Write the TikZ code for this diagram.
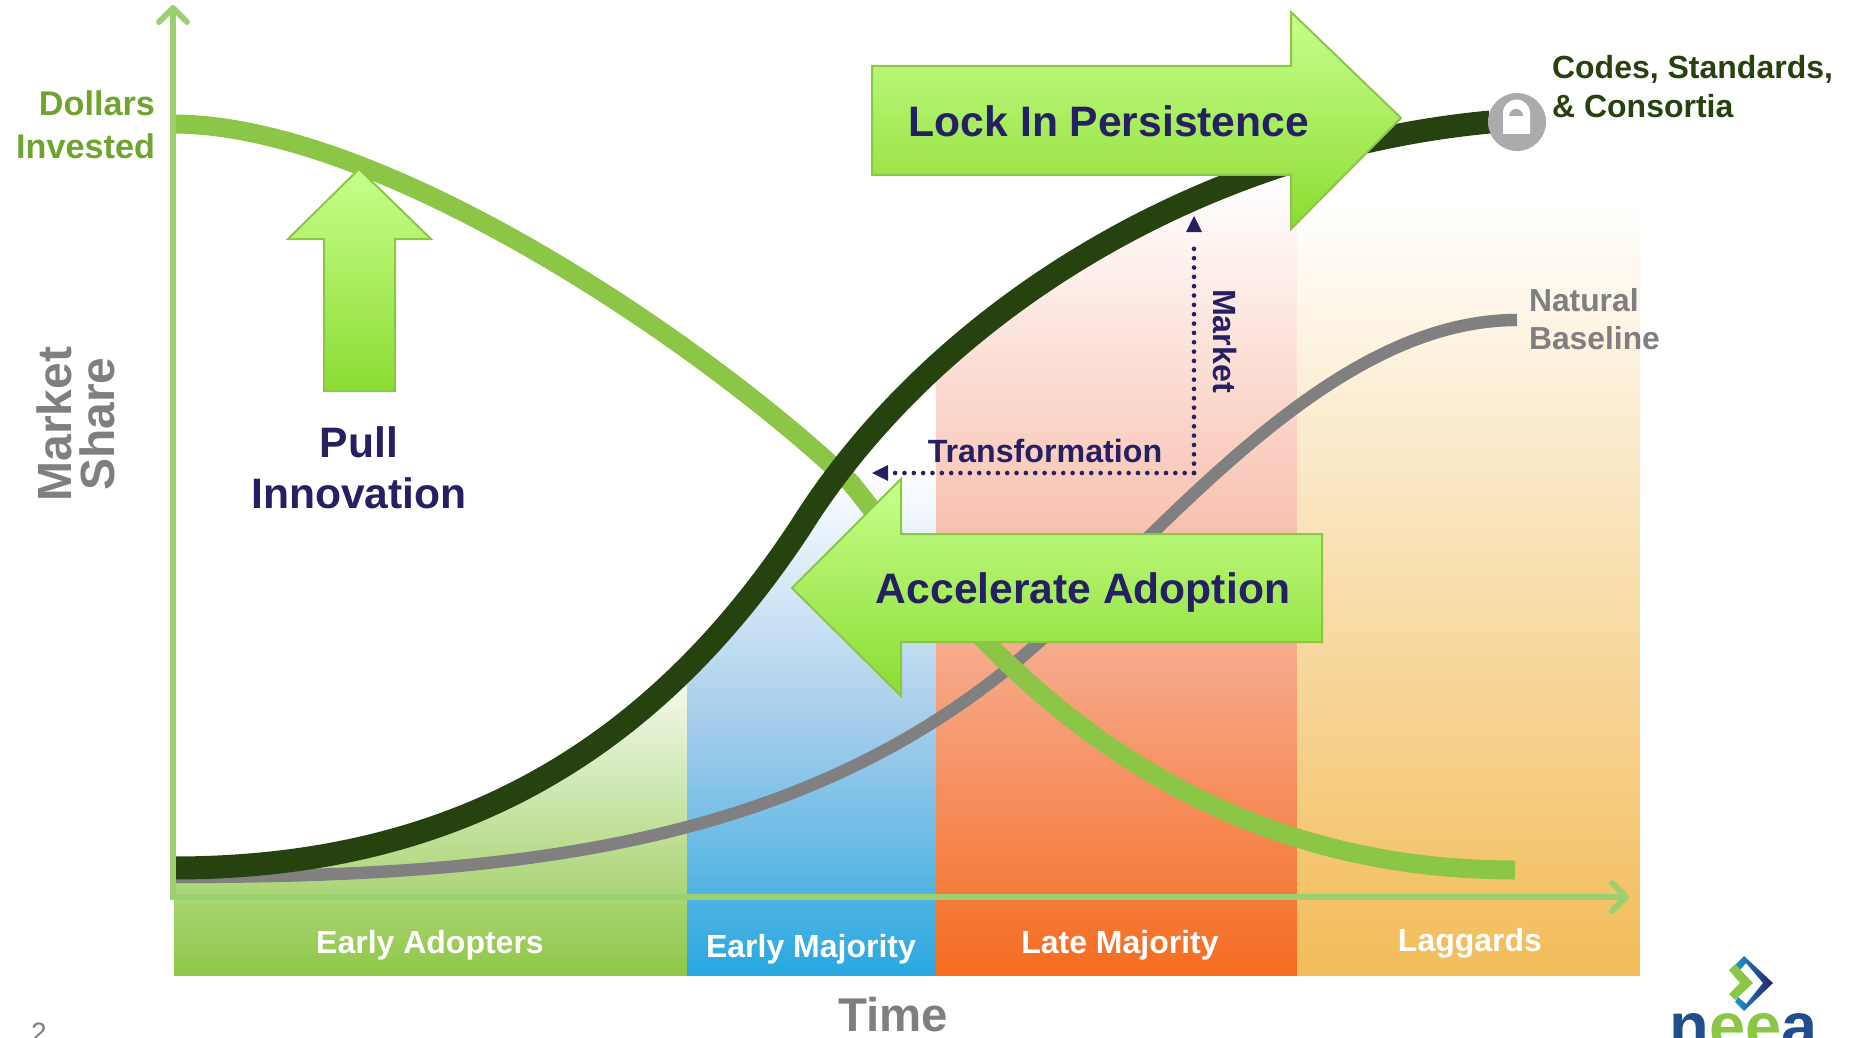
\documentclass[tikz,border=0pt]{standalone}
\usepackage{fontspec}
\setmainfont{Liberation Sans}
\usetikzlibrary{arrows.meta,calc}
\definecolor{navy}{HTML}{251F63}
\definecolor{dkgreen}{HTML}{26430F}
\definecolor{midgreen}{HTML}{8CC646}
\definecolor{axisgreen}{HTML}{9BD070}
\definecolor{labgreen}{HTML}{6FA52F}
\definecolor{txtgray}{HTML}{7F7F7F}
\definecolor{curvegray}{HTML}{808080}
\definecolor{arrowlight}{HTML}{C6FF8C}
\definecolor{arrowdark}{HTML}{8CDC32}
\definecolor{bandgreen}{HTML}{8FC748}
\definecolor{bandblue}{HTML}{29A8E0}
\definecolor{bandbluemid}{HTML}{A5CDEB}
\definecolor{bandorange}{HTML}{F56C20}
\definecolor{bandorangemid}{HTML}{F7B8A5}
\definecolor{bandyellow}{HTML}{F2BC58}
\definecolor{logoblue}{HTML}{1E94D2}
\tikzset{
 x=0.5pt,y=-0.5pt,
 bigarrow/.style={draw=midgreen,line width=1pt,line join=miter,top color=arrowlight,bottom color=arrowdark},
 bandlabel/.style={text=white,font=\bfseries\fontsize{16}{18}\selectfont,anchor=center},
 arrowtext/.style={text=navy,font=\bfseries\fontsize{21.3}{25.5}\selectfont,align=center},
 curve/.style={line cap=butt,line join=round},
 axis/.style={draw=axisgreen,line width=3pt,-{Straight Barb[round,length=7pt,width=14pt,line width=3pt]}},
 dots/.style={draw=navy,line width=2.3pt,dash pattern=on 0pt off 4.67pt,line cap=round},
 navylabel/.style={text=navy,font=\bfseries\fontsize{16.1}{19}\selectfont},
}
\def\darkcurve{(173,868) .. controls (450,868) and (650,755) .. (800,528) .. controls (930,320) and (1190,150) .. (1490,122)}
\begin{document}
\begin{tikzpicture}
\useasboundingbox (0,0) rectangle (1854,1038);
\begin{scope}
 \clip \darkcurve -- (1640,122) -- (1640,1000) -- (174,1000) -- cycle;
 \shade[top color=white,bottom color=bandgreen] (174,650) rectangle (687,975);
 \shade[top color=white,bottom color=bandblue,middle color=bandbluemid] (687,470) rectangle (936,975);
 \shade[top color=white,bottom color=bandorange,middle color=bandorangemid] (936,180) rectangle (1297,975);
 \shade[top color=white,bottom color=bandyellow] (1297,200) rectangle (1640,975);
\end{scope}
\draw[curve,curvegray,line width=6.2pt] (173,877) .. controls (500,877) and (785,850) .. (1010,667) .. controls (1150,552) and (1320,320) .. (1517,320);
\draw[curve,midgreen,line width=9.5pt] (173,124) .. controls (380,124) and (700,340) .. (851,483) .. controls (945,600) and (1130,870) .. (1515,870);
\draw[curve,dkgreen,line width=11.5pt] \darkcurve;
\coordinate (origin) at (173,900);
\coordinate (xorigin) at (170,897);
\coordinate (ytop) at (173,5);
\coordinate (xend) at (1629,897);
\draw[axis] (origin) -- (ytop);
\draw[axis] (xorigin) -- (xend);
\node[circle,fill=black!33,minimum size=29pt,inner sep=0pt] (lock) at (1517,122) {};
\fill[white] (1503,134) -- (1503,113) arc[start angle=180,end angle=0,radius=6.75pt] -- (1530,134) -- cycle;
\fill[black!33] (1509,116) arc[start angle=180,end angle=0,radius=3.5pt] -- cycle;
\draw[bigarrow] (872,66) -- (1291,66) -- (1291,12) -- (1401,118) -- (1291,229) -- (1291,175) -- (872,175) -- cycle;
\draw[bigarrow] (359,169) -- (431,239) -- (395,239) -- (395,391) -- (324,391) -- (324,239) -- (288,239) -- cycle;
\draw[bigarrow] (792,588) -- (901,479) -- (901,534) -- (1322,534) -- (1322,642) -- (901,642) -- (901,696) -- cycle;
\node[arrowtext] (lockin) at (1109,121) {Lock In Persistence};
\node[arrowtext] (accel) at (1083,592) {Accelerate Adoption};
\node[arrowtext] (pull) at (359,468) {Pull\\Innovation};
\coordinate (corner) at (1194,473);
\coordinate (mup) at (1194,216);
\coordinate (tleft) at (872,473);
\coordinate (mupend) at (1194,241);
\coordinate (tleftend) at (895,473);
\draw[dots] (corner) -- (mupend);
\draw[dots] (corner) -- (tleftend);
\fill[navy] (mup) -- (1202,232) -- (1186,232) -- cycle;
\fill[navy] (tleft) -- (888,465) -- (888,481) -- cycle;
\node[navylabel] (tr) at (1045,451) {Transformation};
\node[navylabel,rotate=-90] (mk) at (1225,341) {Market};
\node[text=labgreen,font=\bfseries\fontsize{17.1}{21.3}\selectfont,align=right,anchor=east] (di) at (162,125) {Dollars\\Invested};
\node[text=txtgray,font=\bfseries\fontsize{24}{21.5}\selectfont,align=center,rotate=90] (ms) at (76,424) {Market\\Share};
\node[text=txtgray,font=\bfseries\fontsize{23.7}{26}\selectfont] (time) at (893,1015) {Time};
\node[text=dkgreen,font=\bfseries\fontsize{16}{19.5}\selectfont,align=left,anchor=west] (codes) at (1545,87) {Codes, Standards,\\\& Consortia};
\node[text=txtgray,font=\bfseries\fontsize{15.9}{19}\selectfont,align=left,anchor=west] (nb) at (1522,319) {Natural\\Baseline};
\node[bandlabel] (b1) at (430,945) {Early Adopters};
\node[bandlabel] (b2) at (811,949) {Early Majority};
\node[bandlabel] (b3) at (1120,945) {Late Majority};
\node[bandlabel] (b4) at (1470,943) {Laggards};
\node[text=txtgray,font=\fontsize{14}{16}\selectfont] (pg) at (39,1033) {2};
\shade[left color=logoblue,right color=navy,shading angle=90] (1735,965) -- (1744,956) -- (1773,983) -- (1744,1011) -- (1735,1002) -- (1738,997) -- (1746,1004) -- (1763,983) -- (1746,963) -- (1740,970) -- cycle;
\fill[midgreen] (1729,970) -- (1735,964) -- (1753,983) -- (1735,1000) -- (1729,994) -- (1740,983) -- cycle;
\node[font=\bfseries\fontsize{32.5}{31}\selectfont,text=logoblue!40!navy,anchor=base,inner sep=0pt] (logo) at (1744,1048) {n\textcolor{midgreen}{ee}a};
\end{tikzpicture}
\end{document}
